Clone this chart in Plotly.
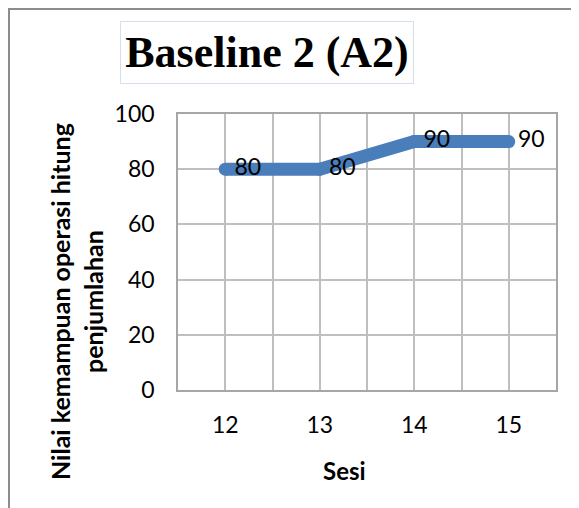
import plotly.graph_objects as go

sesi = [12, 13, 14, 15]
nilai = [80, 80, 90, 90]
y_ticks = [0, 20, 40, 60, 80, 100]
title_text = "Baseline 2 (A2)"
x_title = "Sesi"
y_title = "Nilai kemampuan operasi hitung<br>penjumlahan"

OFF = 8  # page body margin
W, H = 579 - OFF, 508 - OFF
L, R, T, B = 178 - OFF, 23, 114 - OFF, 118
pw, ph = W - L - R, H - T - B

def px(x):
    return (x - OFF - L) / pw

def py(y):
    return 1 - (y - OFF - T) / ph

fig = go.Figure()
fig.add_trace(go.Scatter(
    x=sesi, y=nilai, mode="lines+markers+text",
    line=dict(color="#4a7ebb", width=13),
    marker=dict(color="#4a7ebb", size=13),
    text=[str(v) for v in nilai], textposition="middle right",
    textfont=dict(family="Lato", size=23, color="#000000"),
    cliponaxis=False, showlegend=False,
))

fig.update_layout(
    width=W, height=H,
    margin=dict(l=L, r=R, t=T, b=B),
    paper_bgcolor="white", plot_bgcolor="white",
    xaxis=dict(
        range=[11.5, 15.5], tickvals=sesi, ticktext=[str(s) for s in sesi],
        showgrid=True, gridcolor="#bfbfbf", gridwidth=1.5,
        minor=dict(dtick=0.5, tick0=11.5, showgrid=True, gridcolor="#bfbfbf", gridwidth=1.5),
        showline=True, linecolor="#a6a6a6", linewidth=1.5, mirror=True,
        zeroline=False, ticks="", ticklabelstandoff=14,
        tickfont=dict(family="Lato", size=23, color="#000000"),
    ),
    yaxis=dict(
        range=[0, 100], tickvals=y_ticks,
        showgrid=True, gridcolor="#bfbfbf", gridwidth=1.5,
        showline=True, linecolor="#a6a6a6", linewidth=1.5, mirror=True,
        zeroline=False, ticks="", ticklabelstandoff=17,
        tickfont=dict(family="Lato", size=23, color="#000000"),
    ),
    annotations=[
        dict(text="<b>" + title_text + "</b>", xref="paper", yref="paper",
             x=px(267), y=py(52.5), xanchor="center", yanchor="middle",
             showarrow=False, width=292, height=61,
             bordercolor="#d6dff0", borderwidth=1, borderpad=0,
             font=dict(family="Liberation Serif", size=44, color="#000000")),
        dict(text="<b>" + x_title + "</b>", xref="paper", yref="paper",
             x=px(344), y=py(470), xanchor="center", yanchor="middle",
             showarrow=False,
             font=dict(family="Lato", size=24, color="#000000")),
        dict(text="<b>" + y_title + "</b>", xref="paper", yref="paper",
             x=px(76), y=py(302), xanchor="center", yanchor="middle",
             textangle=-90, showarrow=False,
             font=dict(family="Lato", size=25, color="#000000")),
    ],
    shapes=[
        dict(type="line", xref="paper", yref="paper", x0=px(8), x1=px(590),
             y0=py(9), y1=py(9), line=dict(color="#8c8c8c", width=2)),
        dict(type="line", xref="paper", yref="paper", x0=px(9), x1=px(9),
             y0=py(8), y1=py(520), line=dict(color="#8c8c8c", width=2)),
    ],
)

fig.write_html("out.html")
